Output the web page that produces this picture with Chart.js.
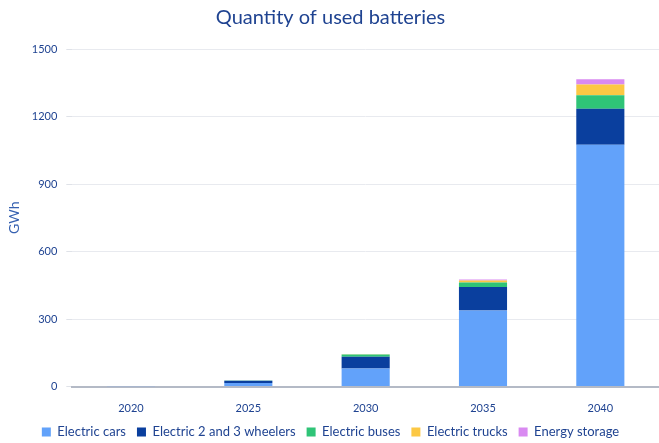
<!DOCTYPE html>
<html>
<head>
<meta charset="utf-8">
<script src="https://cdn.jsdelivr.net/npm/chart.js@4"></script>
<style>
  html, body { margin: 0; padding: 0; background: #fff; }
  #box { width: 659px; height: 443px; }
</style>
</head>
<body>
<div id="box"><canvas id="graficoBaterias"></canvas></div>
<script>
const years = ['2020', '2025', '2030', '2035', '2040']
const electricCars = [1, 16, 80, 338, 1075]
const twoThreeWheelers = [0, 10, 52, 104, 160]
const electricBuses = [0, 1, 10, 20, 59]
const electricTrucks = [0, 0, 1, 9, 48]
const energyStorage = [0, 0, 0, 5, 24]
const yTicks = [0, 300, 600, 900, 1200, 1500]

const textBlue = '#1f4391'
const fontName = 'Lato, "Open Sans", sans-serif'

function serie(label, data, color){
    return {
        label: label,
        data: data,
        backgroundColor: color,
        borderWidth: 0,
        barPercentage: 0.41,
        categoryPercentage: 1
    }
}

// legend sits a bit lower than chart.js would put it
const legendLower = {
    id: 'legendLower',
    beforeInit(chart){
        const fit = chart.legend.fit
        chart.legend.fit = function(){
            fit.call(this)
            this.height -= 5.5
        }
    }
}

const graph = new Chart(document.querySelector('#graficoBaterias'), {
    type: 'bar',
    data: {
        labels: years,
        datasets: [
            serie('Electric cars', electricCars, '#62a2fa'),
            serie('Electric 2 and 3 wheelers', twoThreeWheelers, '#0a3f9e'),
            serie('Electric buses', electricBuses, '#2fc477'),
            serie('Electric trucks', electricTrucks, '#fcc844'),
            serie('Energy storage', energyStorage, '#d98af1')
        ]
    },
    plugins: [legendLower],
    options: {
        responsive: true,
        maintainAspectRatio: false,
        animation: false,
        layout: { padding: { left: 2, right: 0, top: 4, bottom: 0 } },
        plugins: {
            title: {
                display: true,
                text: 'Quantity of used batteries',
                color: textBlue,
                font: { family: fontName, size: 20, weight: 'normal' },
                padding: { top: 2, bottom: 19 }
            },
            legend: {
                position: 'bottom',
                labels: {
                    color: textBlue,
                    boxWidth: 9,
                    boxHeight: 9,
                    padding: 11,
                    font: { family: fontName, size: 13 }
                }
            },
            tooltip: { enabled: false }
        },
        scales: {
            x: {
                stacked: true,
                afterFit: (scale) => { scale.height = 28 },
                grid: { display: false, drawTicks: false },
                border: { color: '#b4bac6', width: 2 },
                ticks: { color: textBlue, font: { family: fontName, size: 11 }, padding: 15 }
            },
            y: {
                stacked: true,
                min: 0,
                max: 1500,
                afterBuildTicks: (axis) => { axis.ticks = yTicks.map(v => ({ value: v })) },
                grid: { color: '#e8eaef', drawTicks: true, tickLength: 6, tickColor: '#dfe2e8' },
                border: { display: false },
                title: {
                    display: true,
                    text: 'GWh',
                    color: '#3560b0',
                    font: { family: fontName, size: 14 },
                    padding: { top: 4, bottom: 0 }
                },
                ticks: {
                    color: textBlue,
                    font: { family: fontName, size: 11 },
                    padding: 9,
                    callback: (value) => String(value)
                }
            }
        }
    }
})
</script>
</body>
</html>
